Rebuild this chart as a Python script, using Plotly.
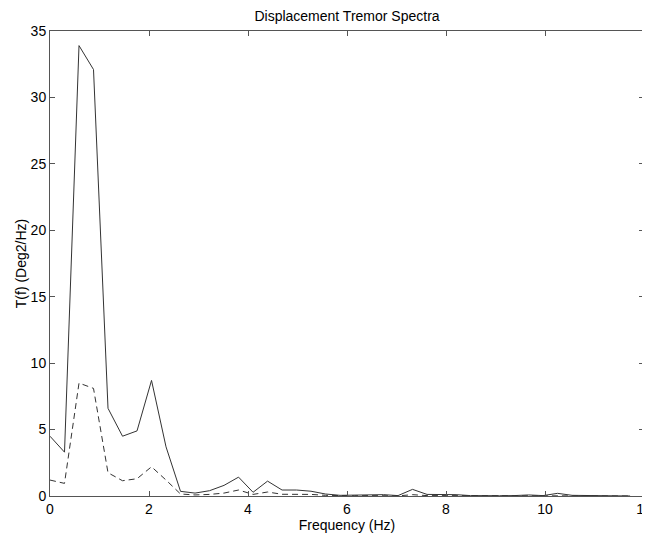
import plotly.graph_objects as go

freq = [0.000, 0.293, 0.586, 0.879, 1.172, 1.465, 1.758, 2.051, 2.344, 2.637,
        2.930, 3.223, 3.516, 3.809, 4.102, 4.395, 4.688, 4.980, 5.273, 5.566,
        5.859, 6.152, 6.445, 6.738, 7.031, 7.324, 7.617, 7.910, 8.203, 8.496,
        8.789, 9.082, 9.375, 9.668, 9.961, 10.254, 10.547, 10.840, 11.133, 11.426,
        11.719]

solid_vals = [4.5, 3.3, 33.9, 32.1, 6.6, 4.5, 4.9, 8.7, 3.7, 0.35,
              0.22, 0.4, 0.8, 1.42, 0.28, 1.12, 0.45, 0.45, 0.36, 0.15,
              0.05, 0.05, 0.1, 0.1, 0.03, 0.5, 0.12, 0.12, 0.1, 0.03,
              0.0, 0.02, 0.03, 0.08, 0.03, 0.2, 0.05, 0.03, 0.0, 0.03,
              0.0]

dashed_vals = [1.2, 0.95, 8.5, 8.1, 1.75, 1.15, 1.3, 2.2, 1.2, 0.15,
               0.08, 0.12, 0.22, 0.45, 0.12, 0.3, 0.13, 0.13, 0.12, 0.05,
               0.02, 0.02, 0.03, 0.03, 0.01, 0.1, 0.03, 0.03, 0.03, 0.01,
               0.0, 0.01, 0.01, 0.02, 0.01, 0.05, 0.02, 0.01, 0.0, 0.01,
               0.0]

x_ticks = [0, 2, 4, 6, 8, 10, 12]
y_ticks = [0, 5, 10, 15, 20, 25, 30, 35]

FONT = "Arial, Liberation Sans, sans-serif"

fig = go.Figure()
fig.add_trace(go.Scatter(x=freq, y=solid_vals, mode="lines",
                         line=dict(color="#333333", width=1), showlegend=False))
fig.add_trace(go.Scatter(x=freq, y=dashed_vals, mode="lines",
                         line=dict(color="#333333", width=1, dash="6px,4px"), showlegend=False))

fig.update_layout(
    width=650, height=538,
    margin=dict(l=42, r=14, t=23, b=50, autoexpand=False),
    paper_bgcolor="white", plot_bgcolor="white",
    font=dict(family=FONT, size=14, color="black"),
    title=dict(text="Displacement Tremor Spectra", x=(42 + 636) / 2 / 650, xanchor="center",
               y=1 - 8 / 538, yanchor="middle",
               font=dict(family=FONT, size=14, color="black")),
)
axis_common = dict(showline=True, linecolor="#555555", linewidth=1, mirror="ticks",
                   ticks="inside", ticklen=5, tickcolor="#555555", showgrid=False,
                   zeroline=False, automargin=False,
                   tickfont=dict(family=FONT, size=14, color="black"))
fig.update_xaxes(range=[0, 12], tickvals=x_ticks, ticktext=[str(v) for v in x_ticks],
                 title=dict(text="Frequency (Hz)", standoff=0,
                            font=dict(family=FONT, size=14, color="black")),
                 **axis_common)
fig.update_yaxes(range=[0, 35], tickvals=y_ticks, ticktext=[str(v) for v in y_ticks],
                 title=dict(text="T(f) (Deg2/Hz)", standoff=0,
                            font=dict(family=FONT, size=14, color="black")),
                 **axis_common)

fig.write_html("out.html")
